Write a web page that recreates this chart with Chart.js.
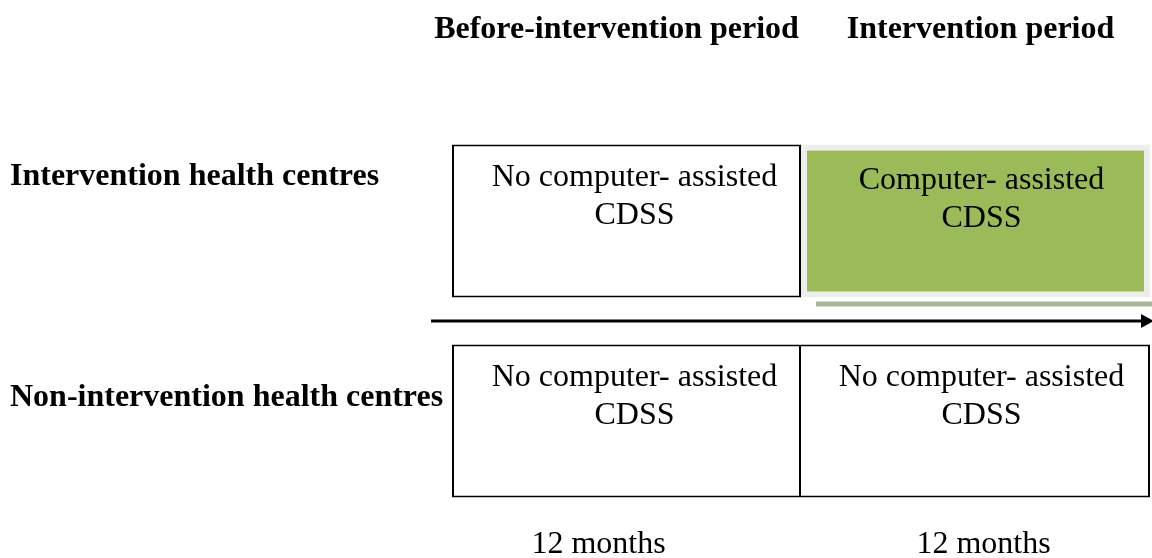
<!DOCTYPE html>
<html>
<head>
<meta charset="utf-8">
<script src="https://cdn.jsdelivr.net/npm/chart.js@4/dist/chart.umd.min.js"></script>
<style>
  html, body { margin: 0; padding: 0; background: #ffffff; }
  #wrap { width: 1152px; height: 558px; }
</style>
</head>
<body>
<div id="wrap"><canvas id="c" width="1152" height="558"></canvas></div>
<script>
// ---- data ----
const periods = ['Before-intervention period', 'Intervention period'];
const groups = ['Intervention health centres', 'Non-intervention health centres'];
const durations = ['12 months', '12 months'];
const periodMonths = [12, 12];
// cell text per period, per group
const beforeCells = [['No computer- assisted', 'CDSS'], ['No computer- assisted', 'CDSS']];
const interventionCells = [['Computer- assisted', 'CDSS'], ['No computer- assisted', 'CDSS']];
// whether the CDSS is in use, per period, per group
const beforeCDSS = [false, false];
const interventionCDSS = [true, false];

// ---- build ----
const start1 = 0, end1 = periodMonths[0], end2 = periodMonths[0] + periodMonths[1];
const GREEN = '#9BBB59';
const cellText = [beforeCells, interventionCells];
const cdss = [beforeCDSS, interventionCDSS];

const SERIF = '"Liberation Serif", "Times New Roman", serif';

const diagramPlugin = {
  id: 'diagram',
  beforeDatasetsDraw(chart) {
    const ctx = chart.ctx;
    // shadow strip beneath highlighted cells
    chart.data.datasets.forEach((ds, di) => {
      const meta = chart.getDatasetMeta(di);
      meta.data.forEach((el, i) => {
        if (!cdss[di][i]) return;
        const left = Math.min(el.x, el.base), right = Math.max(el.x, el.base);
        const bottom = el.y + el.height / 2;
        ctx.save();
        ctx.fillStyle = '#A8B699';
        ctx.fillRect(left + 15, bottom + 4, right - left - 13, 5);
        ctx.restore();
      });
    });
  },
  afterDatasetsDraw(chart) {
    const ctx = chart.ctx;
    const ca = chart.chartArea;
    const xs = chart.scales.x, ys = chart.scales.y;
    ctx.save();
    ctx.fillStyle = '#000';
    ctx.textBaseline = 'middle';

    // cell texts
    ctx.font = '32px ' + SERIF;
    ctx.textAlign = 'center';
    chart.data.datasets.forEach((ds, di) => {
      const meta = chart.getDatasetMeta(di);
      meta.data.forEach((el, i) => {
        const cx = (el.x + el.base) / 2 + (di === 0 ? 8 : 6);
        const top = el.y - el.height / 2;
        const lines = cellText[di][i];
        const dy = cdss[di][i] ? 3 : 0;
        lines.forEach((t, k) => ctx.fillText(t, cx, top + 33 + dy + k * 38));
      });
    });

    // period titles
    ctx.font = 'bold 32px ' + SERIF;
    const centers = [(xs.getPixelForValue(start1) + xs.getPixelForValue(end1)) / 2,
                     (xs.getPixelForValue(end1) + xs.getPixelForValue(end2)) / 2];
    periods.forEach((p, i) => ctx.fillText(p, centers[i] + (i === 0 ? -10 : 5), 30));

    // group labels
    ctx.textAlign = 'left';
    const offs = [-44, -23];
    groups.forEach((g, i) => ctx.fillText(g, 10, ys.getPixelForValue(i) + offs[i]));

    // durations
    ctx.font = '32px ' + SERIF;
    ctx.textAlign = 'center';
    durations.forEach((d, i) => ctx.fillText(d, centers[i] + (i === 0 ? -28 : 8), 545));

    // time arrow
    const ay = (ys.getPixelForValue(0) + ys.getPixelForValue(1)) / 2;
    ctx.strokeStyle = '#000';
    ctx.lineWidth = 3;
    ctx.beginPath();
    ctx.moveTo(ca.left - 21, ay);
    ctx.lineTo(ca.right - 6, ay);
    ctx.stroke();
    ctx.beginPath();
    ctx.moveTo(ca.right + 4, ay);
    ctx.lineTo(ca.right - 9, ay - 7);
    ctx.lineTo(ca.right - 9, ay + 7);
    ctx.closePath();
    ctx.fill();
    ctx.restore();
  }
};

new Chart(document.getElementById('c'), {
  type: 'bar',
  data: {
    labels: groups,
    datasets: [
      {
        label: periods[0],
        data: groups.map(() => [start1, end1]),
        backgroundColor: beforeCDSS.map(v => v ? GREEN : '#ffffff'),
        borderColor: beforeCDSS.map(v => v ? '#EDEEEB' : '#000000'),
        borderWidth: beforeCDSS.map(v => v ? 6 : 2),
        borderSkipped: false,
        grouped: false
      },
      {
        label: periods[1],
        data: groups.map(() => [end1, end2]),
        backgroundColor: interventionCDSS.map(v => v ? GREEN : '#ffffff'),
        borderColor: interventionCDSS.map(v => v ? '#EDEEEB' : '#000000'),
        borderWidth: interventionCDSS.map(v => v ? 6 : 2),
        borderSkipped: (c) => interventionCDSS[c.dataIndex] ? false : 'start',
        grouped: false
      }
    ]
  },
  options: {
    indexAxis: 'y',
    responsive: false,
    animation: false,
    devicePixelRatio: 1,
    layout: { padding: { top: 121, bottom: 37, left: 452, right: 2 } },
    categoryPercentage: 1,
    barPercentage: 0.765,
    scales: {
      x: { type: 'linear', min: start1, max: end2, display: false },
      y: { type: 'category', display: false, offset: true }
    },
    plugins: {
      legend: { display: false },
      tooltip: { enabled: false }
    }
  },
  plugins: [diagramPlugin]
});
</script>
</body>
</html>
